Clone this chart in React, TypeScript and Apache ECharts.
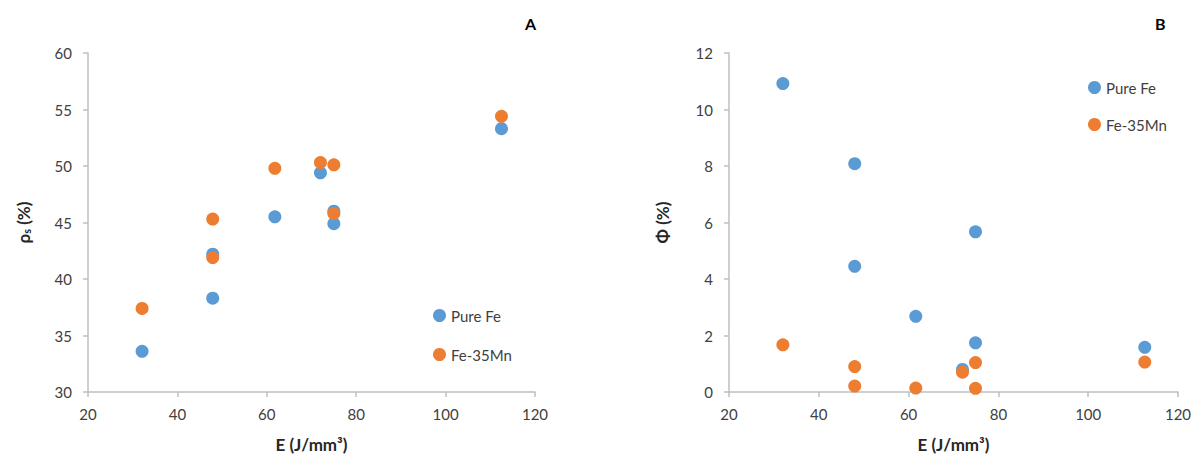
import React, { useEffect, useRef } from "react";
import * as echarts from "echarts";

const seriesNames = ["Pure Fe", "Fe-35Mn"];
const colors = ["#5B9BD5", "#ED7D31"];

// Panel A: relative density vs energy density
const densityPureFe: [number, number][] = [
  [32.1, 33.6], [47.9, 38.3], [47.9, 42.2], [61.8, 45.5],
  [72.0, 49.4], [75.0, 46.0], [75.0, 44.9], [112.5, 53.3],
];
const densityFeMn: [number, number][] = [
  [32.1, 37.4], [47.9, 41.9], [47.9, 45.3], [61.8, 49.8],
  [72.0, 50.3], [75.0, 50.1], [75.0, 45.8], [112.5, 54.4],
];

// Panel B: porosity vs energy density
const porosityPureFe: [number, number][] = [
  [32.0, 10.92], [48.0, 8.08], [48.0, 4.45], [61.6, 2.68],
  [72.0, 0.8], [74.9, 5.67], [74.9, 1.74], [112.6, 1.58],
];
const porosityFeMn: [number, number][] = [
  [32.0, 1.67], [48.0, 0.9], [48.0, 0.21], [61.6, 0.14],
  [72.0, 0.7], [74.9, 1.04], [74.9, 0.13], [112.6, 1.06],
];

const FONT = "Lato, 'Open Sans', sans-serif";

export default function App() {
  const ref = useRef<HTMLDivElement>(null);
  useEffect(() => {
    if (!ref.current) return;
    const chart = echarts.init(ref.current, undefined, { renderer: "svg" });
    const axisLine = { show: true, lineStyle: { color: "#BFBFBF", width: 1.5 } };
    const axisTick = { show: true, length: 5, lineStyle: { color: "#BFBFBF", width: 1.5 } };
    const axisLabel = { color: "#404040", fontSize: 15, fontFamily: FONT };
    const xName = "E (J/mm³)";
    const xNameStyle = { fontSize: 17, fontWeight: "bold" as const, color: "#262626", fontFamily: FONT };
    const mkX = (gi: number) => ({
      type: "value", gridIndex: gi, min: 20, max: 120, interval: 20,
      axisLine, axisTick, axisLabel: { ...axisLabel, margin: 14 }, splitLine: { show: false },
      name: xName, nameLocation: "middle", nameGap: 44, nameTextStyle: xNameStyle,
    });
    const scatter = (name: string, gi: number, data: [number, number][], color: string) => ({
      type: "scatter", name, xAxisIndex: gi, yAxisIndex: gi, data,
      symbol: "circle", symbolSize: 13, itemStyle: { color, opacity: 1 },
    });
    chart.setOption({
      animation: false,
      backgroundColor: "#ffffff",
      textStyle: { fontFamily: FONT },
      title: [
        { text: "A", left: 520, top: 10, textStyle: { fontSize: 16, fontWeight: "bold", color: "#000", fontFamily: FONT } },
        { text: "B", left: 1150, top: 10, textStyle: { fontSize: 16, fontWeight: "bold", color: "#000", fontFamily: FONT } },
      ],
      grid: [
        { left: 88, right: 665, top: 53, bottom: 69 },
        { left: 729, right: 22, top: 53, bottom: 69 },
      ],
      xAxis: [mkX(0), mkX(1)],
      yAxis: [
        {
          type: "value", gridIndex: 0, min: 30, max: 60, interval: 5,
          axisLine, axisTick, axisLabel: { ...axisLabel, margin: 16 }, splitLine: { show: false },
          name: "{a|ρ}{b|s}{a| (%)}", nameLocation: "middle", nameGap: 56, nameRotate: 90,
          nameTextStyle: {
            rich: {
              a: { fontSize: 17, fontWeight: "bold", color: "#262626", fontFamily: FONT },
              b: { fontSize: 11, fontWeight: "bold", color: "#262626", fontFamily: FONT, padding: [7, 0, 0, 0] },
            },
          },
        },
        {
          type: "value", gridIndex: 1, min: 0, max: 12, interval: 2,
          axisLine, axisTick, axisLabel: { ...axisLabel, margin: 16 }, splitLine: { show: false },
          name: "Φ (%)", nameLocation: "middle", nameGap: 58, nameRotate: 90,
          nameTextStyle: { fontSize: 17, fontWeight: "bold", color: "#262626", fontFamily: FONT },
        },
      ],
      legend: [
        {
          data: seriesNames, orient: "vertical", left: 428, top: 303, itemWidth: 13, itemHeight: 13,
          itemGap: 24, icon: "circle", selectedMode: false,
          textStyle: { fontSize: 15, color: "#404040", fontFamily: FONT, lineHeight: 15 },
        },
        {
          data: seriesNames, orient: "vertical", left: 1083, top: 75, itemWidth: 13, itemHeight: 13,
          itemGap: 22, icon: "circle", selectedMode: false,
          textStyle: { fontSize: 15, color: "#404040", fontFamily: FONT, lineHeight: 15 },
        },
      ],
      series: [
        scatter(seriesNames[0], 0, densityPureFe, colors[0]),
        scatter(seriesNames[1], 0, densityFeMn, colors[1]),
        scatter(seriesNames[0], 1, porosityPureFe, colors[0]),
        scatter(seriesNames[1], 1, porosityFeMn, colors[1]),
      ],
    });
    return () => chart.dispose();
  }, []);
  return (
    <div
      ref={ref}
      style={{ position: "absolute", left: 0, top: 0, width: 1200, height: 461, background: "#fff" }}
    />
  );
}
